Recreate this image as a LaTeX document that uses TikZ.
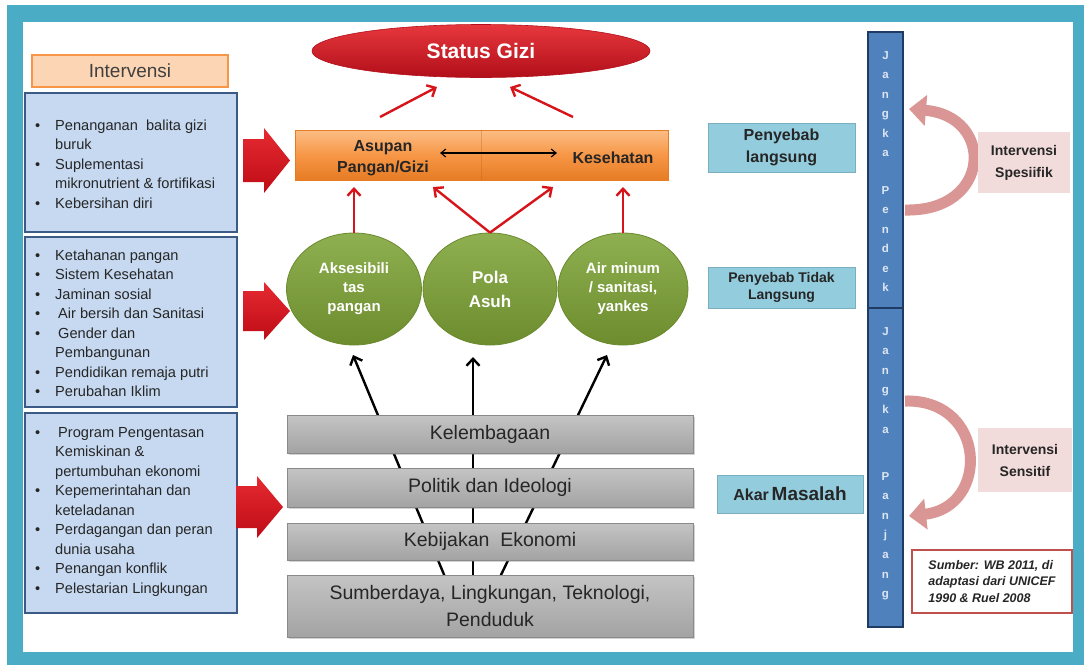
\documentclass[tikz,border=0pt]{standalone}
\usepackage{fontspec}
\setmainfont{Liberation Sans}
\usetikzlibrary{arrows.meta,shapes.geometric,shadows,calc}
\definecolor{tealf}{HTML}{4BACC6}
\definecolor{lbfill}{HTML}{C6D9F1}
\definecolor{lbdraw}{HTML}{3B5A85}
\definecolor{dtext}{HTML}{262626}
\definecolor{ivtext}{HTML}{404040}
\definecolor{ivfill}{HTML}{FCD5B4}
\definecolor{ivdraw}{HTML}{F79646}
\definecolor{sgtop}{HTML}{E6373D}
\definecolor{sgbot}{HTML}{B20F1A}
\definecolor{obtop}{HTML}{FBBE86}
\definecolor{obmid}{HTML}{F79646}
\definecolor{obbot}{HTML}{E67C24}
\definecolor{getop}{HTML}{8FB050}
\definecolor{gebot}{HTML}{6C8C2E}
\definecolor{gedraw}{HTML}{6A8A2E}
\definecolor{gbtop}{HTML}{C4C4C4}
\definecolor{gbbot}{HTML}{A3A3A3}
\definecolor{gbdraw}{HTML}{8A8A8A}
\definecolor{rarr}{HTML}{D7141A}
\definecolor{cyanfill}{HTML}{93CDDD}
\definecolor{cyandraw}{HTML}{7AAFC0}
\definecolor{pinkfill}{HTML}{F2DCDB}
\definecolor{pinkarr}{HTML}{D99694}
\definecolor{srcdraw}{HTML}{C0504D}
\definecolor{barfill}{HTML}{4F81BD}
\definecolor{bardraw}{HTML}{1F3B63}
\definecolor{bartext}{HTML}{DCE6F2}
\definecolor{brtop}{HTML}{E62A31}
\definecolor{brbot}{HTML}{BE0C16}
\newcommand{\lbul}{\makebox[20pt][l]{\textbullet}}
\newcommand{\lind}{\hspace*{20pt}}
\begin{document}
\begin{tikzpicture}[x=1pt,y=-1pt,
  lbox/.style={draw=lbdraw, fill=lbfill, line width=1.6pt, inner sep=0},
  ltext/.style={anchor=north west, inner sep=0, align=left, text=dtext, font=\fontsize{14.6}{19.5}\selectfont},
  gband/.style={draw=gbdraw, top color=gbtop, bottom color=gbbot, line width=0.8pt, minimum width=406pt,
     drop shadow={opacity=0.35, shadow xshift=1.5pt, shadow yshift=-1.5pt}, text=dtext,
     font=\fontsize{19.5}{27}\selectfont, align=center, inner sep=0},
  gell/.style={ellipse, draw=gedraw, line width=0.8pt, top color=getop, bottom color=gebot, text=white,
     font=\bfseries\fontsize{15}{19}\selectfont, align=center, inner sep=0, minimum height=112pt},
  rarrow/.style={draw=rarr, line width=2.4pt, -{Straight Barb[length=7pt,width=13pt]}},
  barrow/.style={draw=black, line width=2.4pt, -{Straight Barb[length=7pt,width=13pt]}},
  cbox/.style={rectangle, fill=cyanfill, draw=cyandraw, line width=0.8pt, inner sep=0, align=center, text=dtext},
  pbox/.style={rectangle, fill=pinkfill, inner sep=0, align=center, text=dtext, font=\bfseries\fontsize{14}{22}\selectfont},
  barbox/.style={rectangle, fill=barfill, draw=bardraw, line width=1.5pt, inner sep=0, minimum width=35pt},
  barletter/.style={text=bartext, font=\bfseries\fontsize{11.5}{11.5}\selectfont, inner sep=0, text height=8pt, text depth=0pt},
  pinkarrow/.style={draw=pinkarr, line width=11pt, -{Triangle[length=17pt,width=30pt]}},
  blockarrow/.style={top color=brtop, bottom color=brbot, draw=none},
]
\useasboundingbox (0,0) rectangle (1084,665);
% frame
\fill[white] (0,0) rectangle (1084,665);
\fill[tealf] (7,5) rectangle (1084,665);
\fill[white] (23,22) rectangle (1073,652);

% header
\node[rectangle, fill=ivfill, draw=ivdraw, line width=1.5pt, minimum width=196pt, minimum height=32pt,
      inner sep=0, text=ivtext, font=\fontsize{19}{20}\selectfont] (iv) at (130,71) {Intervensi};

% left boxes
\node[lbox, minimum width=212pt, minimum height=139pt] (b1) at (131,162.5) {};
\node[lbox, minimum width=212pt, minimum height=170pt] (b2) at (131,322) {};
\node[lbox, minimum width=212pt, minimum height=200pt] (b3) at (131,513) {};
\node[ltext] (t1) at (35,119) {\rule{0pt}{11pt}\lbul Penanganan\ \ balita gizi\\
\lind buruk\\
\lbul Suplementasi\\
\lind mikronutrient \& fortifikasi\\
\lbul Kebersihan diri};
\node[ltext] (t2) at (35,249) {\rule{0pt}{11pt}\lbul Ketahanan pangan\\
\lbul Sistem Kesehatan\\
\lbul Jaminan sosial\\
\lbul\hspace{3pt}Air bersih dan Sanitasi\\
\lbul\hspace{3pt}Gender dan\\
\lind Pembangunan\\
\lbul Pendidikan remaja putri\\
\lbul Perubahan Iklim};
\node[ltext] (t3) at (35,426) {\rule{0pt}{11pt}\lbul\hspace{3pt}Program Pengentasan\\
\lind Kemiskinan \&\\
\lind pertumbuhan ekonomi\\
\lbul Kepemerintahan dan\\
\lind keteladanan\\
\lbul Perdagangan dan peran\\
\lind dunia usaha\\
\lbul Penangan konflik\\
\lbul Pelestarian Lingkungan};

% red block arrows
\shade[blockarrow] (243,139) -- (264,139) -- (264,128) -- (290,160.5) -- (264,193) -- (264,182) -- (243,182) -- cycle;
\shade[blockarrow] (243,291) -- (264,291) -- (264,282) -- (290,311) -- (264,340) -- (264,331) -- (243,331) -- cycle;
\shade[blockarrow] (236,486) -- (257,486) -- (257,476) -- (283,507) -- (257,538) -- (257,528) -- (236,528) -- cycle;

% black arrows (behind the grey bands)
\coordinate (ba1) at (445,577);
\coordinate (ba2) at (473,577);
\coordinate (ba3) at (500,577);
\coordinate (bt1) at (353,355);
\coordinate (bt2) at (473,357);
\coordinate (bt3) at (607,355);
\draw[barrow] (ba1) -- (bt1);
\draw[barrow] (ba2) -- (bt2);
\draw[barrow] (ba3) -- (bt3);

% grey bands
\node[gband, minimum height=38pt] (g1) at (490,434) {Kelembagaan};
\node[gband, minimum height=39pt] (g2) at (490,487.5) {Politik dan Ideologi};
\node[gband, minimum height=37pt] (g3) at (490,541.5) {Kebijakan\ \ Ekonomi};
\node[gband, minimum height=62pt] (g4) at (490,606) {Sumberdaya, Lingkungan, Teknologi,\\Penduduk};

% status gizi
\node[ellipse, top color=sgtop, bottom color=sgbot, draw=sgbot, line width=0.6pt, minimum width=338pt,
      minimum height=53pt, inner sep=0, text=white, font=\bfseries\fontsize{21}{24}\selectfont] (sg) at (481,51) {Status Gizi};

% orange box
\node[rectangle, top color=obtop, bottom color=obbot, middle color=obmid, draw=obbot, line width=0.6pt,
      minimum width=373pt, minimum height=50pt, inner sep=0] (ob) at (481.5,155) {};
\draw[obbot!80!black, line width=0.4pt, opacity=0.35] (ob.north) -- (ob.south);
\node[inner sep=0, align=center, text=dtext, font=\bfseries\fontsize{16}{21}\selectfont] (asp) at (383,158) {Asupan\\Pangan/Gizi};
\node[inner sep=0, text=dtext, font=\bfseries\fontsize{16}{20}\selectfont] (kes) at (613,158) {Kesehatan};
\coordinate (dl) at (440,153);
\coordinate (dr) at (557,153);
\draw[line width=1.1pt, {Straight Barb[length=5pt,width=8pt]}-{Straight Barb[length=5pt,width=8pt]}] (dl) -- (dr);

% red arrows to status gizi
\coordinate (sa1) at (380,117);
\coordinate (sa2) at (437,87);
\coordinate (sb1) at (573,117);
\coordinate (sb2) at (510,87);
\draw[rarrow] (sa1) -- (sa2);
\draw[rarrow] (sb1) -- (sb2);

% green ellipses
\node[gell, minimum width=135pt] (e1) at (354,289) {Aksesibili\\tas\\pangan};
\node[gell, minimum width=134pt, font=\bfseries\fontsize{17}{24}\selectfont] (e2) at (490,289) {Pola\\Asuh};
\node[gell, minimum width=130pt] (e3) at (623,289) {Air minum\\/ sanitasi,\\yankes};

% red arrows from ellipses
\coordinate (ta1) at (354,187);
\coordinate (ta2) at (433,187);
\coordinate (ta3) at (553,187);
\coordinate (ta4) at (623,187);
\draw[rarrow] (e1.north) -- (ta1);
\draw[rarrow] (e2.north) -- (ta2);
\draw[rarrow] (e2.north) -- (ta3);
\draw[rarrow] (e3.north) -- (ta4);

% right labels
\node[cbox, minimum width=147pt, minimum height=49pt, font=\bfseries\fontsize{16}{22}\selectfont] (pl) at (781.5,147.5) {Penyebab\\langsung};
\node[cbox, minimum width=147pt, minimum height=41pt, font=\bfseries\fontsize{14}{17}\selectfont] (ptl) at (781.5,287.5) {Penyebab Tidak\\Langsung};
\node[cbox, minimum width=146pt, minimum height=38pt, font=\bfseries] (am) at (790,494) {{\fontsize{16}{20}\selectfont Akar} {\fontsize{19}{20}\selectfont Masalah}};

% bars
\node[barbox, minimum height=276pt] (bar1) at (885.5,170) {};
\node[barbox, minimum height=319pt] (bar2) at (885.5,467.5) {};
\foreach \l/\yy [count=\i] in {J/55,a/74.5,n/94,g/113.5,k/133,a/152.5,P/190,e/209.5,n/229,d/248.5,e/268,k/287.5}
  \node[barletter] (jp\i) at (885.5,\yy) {\l};
\foreach \l/\yy [count=\i] in {J/331,a/350.6,n/370.2,g/389.8,k/409.4,a/429,P/476,a/495.6,n/515.2,j/534.8,a/554.4,n/574,g/593.6}
  \node[barletter] (jl\i) at (885.5,\yy) {\l};

% pink curved arrows
\coordinate (ps) at (905,210);
\coordinate (pe) at (909,109);
\draw[pinkarrow] (ps) .. controls (992,212) and (995,116) .. (pe);
\coordinate (qs) at (905,401);
\coordinate (qe) at (909,516);
\draw[pinkarrow] (qs) .. controls (987,399) and (990,507) .. (qe);

% intervensi labels
\node[pbox, minimum width=92pt, minimum height=61pt] (isp) at (1024,162.5) {Intervensi\\Spesiifik};
\node[pbox, minimum width=94pt, minimum height=64pt] (ise) at (1025,460) {Intervensi\\Sensitif};

% source
\node[rectangle, fill=white, draw=srcdraw, line width=1.2pt, minimum width=160pt, minimum height=63pt,
      inner sep=0, align=left, text=dtext, font=\bfseries\itshape\fontsize{12.5}{16.5}\selectfont] (src) at (992,581.5)
  {Sumber: WB 2011, di\\adaptasi dari UNICEF\\1990 \& Ruel 2008};
\end{tikzpicture}
\end{document}
